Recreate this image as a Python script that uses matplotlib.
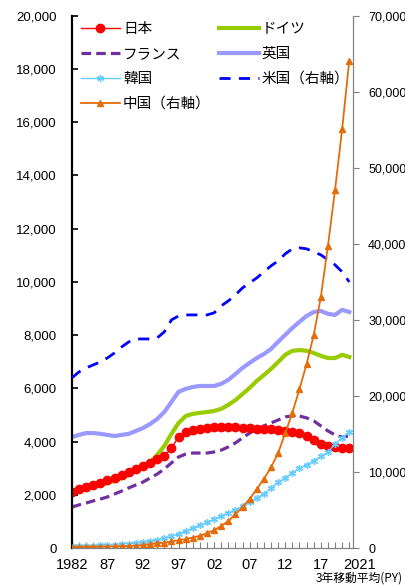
import numpy as np
import matplotlib.pyplot as plt

plt.rcParams['font.family'] = ['Noto Sans CJK JP', 'DejaVu Sans']

years = np.arange(1982, 2022)

# 左軸
japan = [2110, 2220, 2290, 2370, 2440, 2560, 2630, 2740, 2860, 2970,
         3080, 3200, 3350, 3460, 3760, 4170, 4360, 4440, 4470, 4510,
         4550, 4550, 4550, 4550, 4510, 4510, 4470, 4470, 4470, 4440,
         4400, 4360, 4320, 4210, 4060, 3910, 3840, 3800, 3760, 3760]
germany = [2030, 2140, 2220, 2290, 2370, 2440, 2520, 2630, 2740, 2900,
           3050, 3230, 3500, 3840, 4290, 4700, 4960, 5040, 5080, 5110,
           5150, 5230, 5380, 5560, 5790, 6020, 6280, 6500, 6730, 6990,
           7260, 7410, 7440, 7410, 7330, 7220, 7140, 7140, 7260, 7180]
france = [1540, 1620, 1690, 1770, 1840, 1920, 2030, 2140, 2260, 2370,
          2480, 2630, 2780, 2970, 3200, 3420, 3530, 3570, 3570, 3570,
          3610, 3680, 3800, 3950, 4140, 4320, 4470, 4590, 4700, 4810,
          4930, 4960, 4960, 4890, 4780, 4590, 4400, 4250, 4170, 4210]
uk = [4170, 4250, 4320, 4320, 4290, 4250, 4210, 4250, 4290, 4400,
      4510, 4660, 4850, 5110, 5490, 5870, 5980, 6050, 6090, 6090,
      6090, 6170, 6320, 6540, 6770, 6960, 7140, 7290, 7480, 7750,
      8010, 8270, 8500, 8720, 8870, 8910, 8800, 8760, 8950, 8870]
korea = [60, 70, 80, 90, 100, 110, 130, 150, 170, 180,
         210, 250, 290, 360, 440, 540, 640, 750, 860, 970,
         1080, 1200, 1320, 1440, 1580, 1730, 1880, 2040, 2250, 2480,
         2640, 2830, 2990, 3130, 3280, 3440, 3620, 3900, 4150, 4360]

# 右軸
usa = [22370, 23160, 23690, 24080, 24480, 25000, 25660, 26450, 27110, 27500,
       27500, 27500, 27640, 28430, 30000, 30530, 30660, 30660, 30660, 30660,
       30930, 31850, 32500, 33300, 34220, 34870, 35530, 36320, 37110, 37770,
       38690, 39350, 39480, 39350, 38950, 38560, 37900, 37240, 36320, 35000]
china = [150, 160, 170, 180, 190, 200, 220, 240, 260, 300,
         380, 500, 620, 720, 860, 1030, 1180, 1380, 1600, 1950,
         2350, 2900, 3550, 4450, 5400, 6450, 7750, 9100, 10600, 12500,
         15100, 17800, 20900, 24200, 28000, 33000, 39700, 47100, 55100, 64100]

xtick_years = [1982, 1987, 1992, 1997, 2002, 2007, 2012, 2017]
xtick_labels = ['1982', '87', '92', '97', '02', '07', '12', '17']
last_label = '2021'

fig = plt.figure(figsize=(4.06, 5.85), dpi=100)
ax = fig.add_axes([0.177, 0.0632, 0.692, 0.9098])
ax2 = ax.twinx()

l_uk, = ax.plot(years, uk, color='#9999FF', lw=3, label='英国')
l_de, = ax.plot(years, germany, color='#99CC00', lw=3, label='ドイツ')
l_fr, = ax.plot(years, france, color='#7030A0', lw=2.3, ls=(0, (3, 1.6)), label='フランス')
l_jp, = ax.plot(years, japan, color='#FF0000', lw=1, marker='o', ms=6, label='日本')
l_kr, = ax.plot(years, korea, color='#66CCFF', lw=1, marker=(6, 2, 0), ms=5,
                mew=1, label='韓国')

l_us, = ax2.plot(years, usa, color='#0000FF', lw=2, ls=(0, (4, 3)), label='米国（右軸）')
l_cn, = ax2.plot(years, china, color='#E46C0A', lw=1.3, marker='^', ms=5, label='中国（右軸）')

ax.set_xlim(1982, 2021.5)
ax.set_ylim(0, 20000)
ax2.set_ylim(0, 70000)

ax.set_yticks(np.arange(0, 20001, 2000))
ax.set_yticklabels([f'{v:,}' for v in range(0, 20001, 2000)])
ax2.set_yticks(np.arange(0, 70001, 10000))
ax2.set_yticklabels([f'{v:,}' for v in range(0, 70001, 10000)])

ax.set_xticks(years)
ax.set_xticklabels([xtick_labels[xtick_years.index(y)] if y in xtick_years else '' for y in years])
# 最終年のラベルは少し右にずらす
ax.annotate(last_label, xy=(years[-1], 0), xycoords=('data', 'axes fraction'),
            xytext=(10, -10), textcoords='offset pixels', ha='center', va='top',
            fontsize=10.5, family='Liberation Sans')

ax.tick_params(axis='y', direction='in', length=4, labelsize=9.5, pad=11, width=1.2,
               labelfontfamily='Liberation Sans')
ax.tick_params(axis='x', direction='in', length=4, labelsize=10.5, pad=7, color='#808080',
               labelfontfamily='Liberation Sans')
ax2.tick_params(axis='y', direction='out', length=4, labelsize=9, pad=7, color='#808080',
                labelfontfamily='Liberation Sans')

for a in (ax, ax2):
    a.spines['top'].set_visible(False)
    a.spines['right'].set_color('#808080')
    a.spines['bottom'].set_color('#808080')
ax.spines['left'].set_linewidth(1.6)
ax.spines['left'].set_color('black')
ax2.spines['left'].set_visible(False)

handles = [l_jp, l_fr, l_kr, l_cn, l_de, l_uk, l_us]
ax2.legend(handles=handles, ncol=2, loc='upper left', bbox_to_anchor=(0.0, 1.005),
           frameon=False, fontsize=10.5, handlelength=2.7, handletextpad=0.2,
           columnspacing=0.6, labelspacing=0.75, borderaxespad=0.2)

fig.text(0.778, 0.001, '3年移動平均(PY)', fontsize=8.5, ha='left', va='bottom')

fig.savefig('out.png', dpi=100)
